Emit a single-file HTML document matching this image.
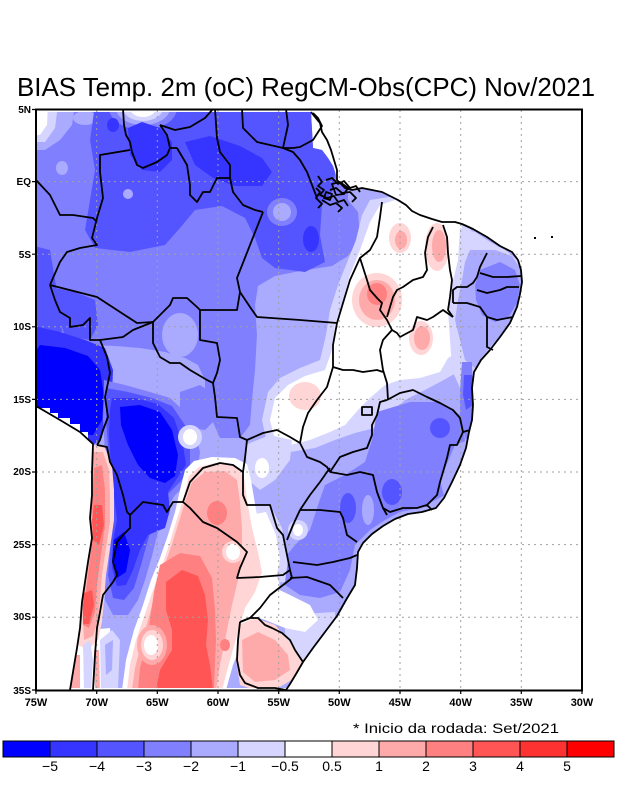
<!DOCTYPE html>
<html><head><meta charset="utf-8"><style>body{margin:0;background:#fff}svg{display:block}</style></head>
<body>
<svg width="618" height="800" viewBox="0 0 618 800" xmlns="http://www.w3.org/2000/svg">
<rect width="618" height="800" fill="#fff"/>
<text x="17" y="96" font-family="Liberation Sans, sans-serif" font-size="26" textLength="578" lengthAdjust="spacingAndGlyphs">BIAS Temp. 2m (oC) RegCM-Obs(CPC) Nov/2021</text>
<defs>
<clipPath id="land"><polygon points="36,112 311,112 313,148 322,150 328,158 333,166 336,175 338,183 345,188 352,190 362,188 372,190 382,192 390,196 398,200 406,205 412,211 420,215 432,219 442,222 455,222 462,224 473,229 487,237 500,246 512,252 518,260 521,270 522,282 520,294 517,307 510,323 500,337 490,350 481,360 474,372 472,388 473,405 472,420 469,432 466,448 460,465 452,482 444,498 436,508 422,512 408,514 395,519 383,526 372,534 363,543 358,552 357,568 355,585 346,600 337,616 325,632 313,648 303,662 296,674 290,684 286,688 70,688 73,672 77,648 80,628 82,602 85,582 88,562 92,538 90,518 92,495 92,472 93,444 88,440 88,432 80,432 80,424 70,424 70,418 58,418 58,413 50,413 50,408 36,408"/></clipPath>
</defs>
<g clip-path="url(#land)">
<rect x="0" y="0" width="618" height="800" fill="#aaaaff"/>
<polygon fill="#8080ff" points="30,100 348,100 348,200 358,212 360,238 348,256 332,266 300,271 275,276 258,286 255,305 257,335 255,370 252,400 250,425 240,438 220,438 212,420 205,400 205,380 198,365 185,358 165,352 140,348 115,346 90,345 60,338 30,335"/>
<ellipse cx="180" cy="335" rx="18" ry="22" fill="#aaaaff"/>
<ellipse cx="62" cy="168" rx="6" ry="7" fill="#aaaaff"/>
<ellipse cx="85" cy="118" rx="12" ry="7" fill="#aaaaff"/>
<polygon fill="#aaaaff" points="30,105 75,105 72,125 60,140 45,150 30,150"/>
<polygon fill="#d5d5ff" points="30,105 58,105 55,128 45,142 30,142"/>
<polygon fill="#ffffff" points="30,105 48,105 47,125 40,135 30,135"/>
<polygon fill="#5555ff" points="95,105 313,105 322,128 336,165 333,190 322,205 320,235 325,262 305,272 275,268 262,258 255,238 245,218 222,206 195,210 180,228 165,245 130,252 95,248 85,230 90,200 95,170 90,140"/>
<polygon fill="#5555ff" points="30,245 50,250 55,280 60,310 62,332 30,332"/>
<polygon fill="#5555ff" points="55,288 75,292 95,300 98,325 90,340 65,336 58,315"/>
<ellipse cx="128" cy="194" rx="5" ry="5" fill="#aaaaff"/>
<ellipse cx="143" cy="108" rx="34" ry="22" fill="#8080ff"/>
<ellipse cx="143" cy="108" rx="27" ry="17" fill="#aaaaff"/>
<ellipse cx="143" cy="108" rx="20" ry="13" fill="#d5d5ff"/>
<ellipse cx="143" cy="108" rx="13" ry="9" fill="#ffffff"/>
<ellipse cx="282" cy="212" rx="15" ry="14" fill="#8080ff"/>
<ellipse cx="282" cy="212" rx="9" ry="9" fill="#aaaaff"/>
<polygon fill="#3535ff" points="128,128 142,122 160,128 172,142 172,160 160,172 142,170 130,155"/>
<polygon fill="#3535ff" points="185,142 210,136 240,146 262,158 272,172 262,186 235,186 213,178 195,165"/>
<ellipse cx="311" cy="239" rx="8" ry="13" fill="#3535ff"/>
<ellipse cx="113" cy="125" rx="6" ry="7" fill="#3535ff"/>
<polygon fill="#8080ff" points="180,392 200,385 215,395 215,420 205,430 190,428 180,410"/>
<polygon fill="#3535ff" points="30,325 60,332 85,340 105,348 113,370 112,395 108,420 100,440 93,445 30,445"/>
<polygon fill="#0000ff" points="40,345 65,348 88,356 100,370 104,395 102,420 93,435 30,432 30,360"/>
<polygon fill="#8080ff" points="104,380 125,385 150,392 170,398 185,412 195,432 200,452 198,468 190,482 175,495 165,512 158,532 152,556 145,580 138,600 128,615 113,615 105,600 104,565 108,520 106,470 103,420"/>
<polygon fill="#5555ff" points="106,388 128,392 152,398 172,406 185,425 190,450 190,468 180,482 166,496 156,515 148,540 141,565 134,588 124,600 113,598 108,575 111,540 112,500 109,460 106,420"/>
<polygon fill="#3535ff" points="112,398 135,398 158,404 174,418 183,445 186,465 176,480 168,492 170,510 165,528 148,535 140,550 133,570 126,585 117,586 112,568 113,540 117,520 114,495 111,465 109,435 110,410"/>
<polygon fill="#0000ff" points="120,407 140,405 160,412 172,430 178,455 175,476 165,483 150,478 138,465 128,445 121,425"/>
<polygon fill="#0000ff" points="114,540 124,532 130,550 126,572 117,578 112,560"/>
<ellipse cx="190" cy="437" rx="12" ry="12" fill="#d5d5ff"/>
<ellipse cx="190" cy="437" rx="7" ry="8" fill="#ffffff"/>
<polygon fill="#ffffff" points="68,632 110,628 112,690 66,690"/>
<polygon fill="#ffd5d5" points="92,445 104,446 112,465 114,490 114,520 110,548 106,575 104,600 102,622 98,640 88,650 78,645 82,602 85,582 88,562 92,538 90,518 92,495 92,472"/>
<polygon fill="#ffaaaa" points="93,452 103,452 109,470 110,495 110,522 106,548 102,575 100,600 98,620 93,636 84,640 82,602 86,582 89,562 93,538 91,518 93,495 93,472"/>
<polygon fill="#ff8080" points="94,468 102,465 105,490 105,525 101,555 97,585 95,612 89,628 83,625 86,590 90,560 93,530 92,500"/>
<polygon fill="#ff5555" points="94,505 102,505 104,525 99,545 93,540 92,520"/>
<polygon fill="#ff5555" points="84,593 92,590 94,605 89,624 83,624 83,605"/>
<polygon fill="#ffaaaa" points="72,655 80,655 80,690 70,690"/>
<polygon fill="#d5d5ff" points="83,645 90,640 93,660 91,690 84,690"/>
<polygon fill="#ffaaaa" points="94,650 99,650 100,690 95,690"/>
<polygon fill="#d5d5ff" points="100,640 112,630 120,640 118,690 101,690"/>
<polygon fill="#aaaaff" points="105,645 113,640 112,670 106,675"/>
<polygon fill="#d5d5ff" points="370,200 395,196 420,210 450,218 465,222 478,240 470,262 462,285 465,310 477,335 477,360 458,372 440,382 425,390 405,400 392,412 375,428 355,433 335,440 315,448 290,452 268,448 262,420 268,392 280,378 300,368 320,360 326,335 330,310 338,285 346,265 356,240 362,215"/>
<polygon fill="#ffffff" points="380,205 395,200 420,214 450,222 460,224 468,240 460,262 453,285 456,310 467,335 462,350 448,358 440,372 420,378 400,380 385,385 370,398 358,410 345,425 330,432 310,440 290,445 275,440 270,420 275,398 288,385 305,376 325,370 332,350 335,325 343,300 350,275 360,250 370,222"/>
<ellipse cx="400" cy="238" rx="11" ry="15" fill="#ffd5d5"/>
<ellipse cx="401" cy="240" rx="6" ry="9" fill="#ffaaaa"/>
<ellipse cx="437" cy="247" rx="12" ry="24" fill="#ffd5d5"/>
<ellipse cx="439" cy="246" rx="7" ry="16" fill="#ffaaaa"/>
<ellipse cx="377" cy="300" rx="25" ry="27" fill="#ffd5d5"/>
<ellipse cx="377" cy="300" rx="18" ry="20" fill="#ffaaaa"/>
<ellipse cx="377" cy="294" rx="10" ry="11" fill="#ff8080"/>
<ellipse cx="421" cy="338" rx="12" ry="17" fill="#ffd5d5"/>
<ellipse cx="422" cy="338" rx="8" ry="12" fill="#ffaaaa"/>
<ellipse cx="305" cy="396" rx="16" ry="14" fill="#ffd5d5"/>
<polygon fill="#d5d5ff" points="460,228 475,232 490,242 505,250 520,262 525,300 518,330 500,350 485,368 475,385 460,388 452,370 450,340 448,310 452,285 458,260"/>
<polygon fill="#aaaaff" points="470,250 495,250 512,256 520,268 523,285 520,300 515,318 505,332 492,345 482,357 475,368 465,360 460,340 455,320 458,300 462,280 465,262"/>
<polygon fill="#8080ff" points="480,270 500,262 515,270 520,285 517,303 508,318 495,322 482,315 476,300 475,285"/>
<polygon fill="#8080ff" points="462,362 472,362 474,420 466,440 460,420 460,390"/>
<polygon fill="#5555ff" points="464,375 472,375 473,405 466,410 463,395"/>
<polygon fill="#8080ff" points="377,412 410,402 440,402 460,415 465,440 458,470 445,495 420,508 400,512 385,520 370,530 355,545 350,570 340,592 320,598 300,595 285,585 283,560 295,545 310,530 318,505 325,485 345,475 365,462 372,440"/>
<ellipse cx="440" cy="428" rx="10" ry="10" fill="#5555ff"/>
<ellipse cx="392" cy="492" rx="10" ry="13" fill="#5555ff"/>
<ellipse cx="348" cy="508" rx="8" ry="15" fill="#5555ff"/>
<ellipse cx="368" cy="510" rx="6" ry="15" fill="#aaaaff"/>
<polygon fill="#aaaaff" points="455,445 468,440 465,470 455,492 445,500 440,480"/>
<polygon fill="#d5d5ff" points="245,445 270,435 292,440 290,460 275,480 260,490 248,480"/>
<ellipse cx="262" cy="468" rx="7" ry="10" fill="#ffffff"/>
<polygon fill="#d5d5ff" points="246,505 270,505 282,528 288,560 285,582 262,584 252,560 246,530"/>
<polygon fill="#ffffff" points="250,515 266,512 276,535 280,560 276,578 265,578 256,560 251,535"/>
<ellipse cx="298" cy="530" rx="10" ry="10" fill="#d5d5ff"/>
<ellipse cx="298" cy="530" rx="5" ry="6" fill="#ffffff"/>
<polygon fill="#d5d5ff" points="285,615 335,612 335,650 300,665 285,650"/>
<polygon fill="#ffffff" points="245,585 265,583 290,595 310,605 318,620 305,632 285,628 265,620 250,615"/>
<polygon fill="#ffffff" points="185,470 194,461 212,457 235,458 247,464 251,480 256,510 262,540 272,565 280,585 270,600 256,618 243,640 233,665 226,690 122,690 126,660 134,630 143,605 151,580 160,558 168,535 175,512 180,490"/>
<polygon fill="#ffd5d5" points="189,476 199,467 215,463 236,466 244,478 247,500 252,528 258,552 262,572 255,592 245,608 238,632 230,660 222,690 127,690 130,665 136,640 145,614 153,590 162,566 169,545 176,522 183,500"/>
<polygon fill="#ffaaaa" points="192,482 205,472 225,471 237,480 240,502 242,528 242,552 238,580 232,605 226,635 220,665 216,690 132,690 135,668 141,645 148,620 155,595 162,572 170,550 177,528 184,505"/>
<polygon fill="#ff8080" points="160,565 180,553 200,556 212,578 215,610 216,640 214,690 138,690 140,668 146,645 150,620 154,592"/>
<polygon fill="#ff5555" points="166,582 182,570 198,576 205,595 208,620 206,645 210,665 213,690 156,690 160,670 172,650 172,630 166,610"/>
<ellipse cx="152" cy="645" rx="15" ry="20" fill="#ffaaaa"/>
<ellipse cx="152" cy="645" rx="11" ry="15" fill="#ffd5d5"/>
<ellipse cx="151" cy="645" rx="7" ry="10" fill="#ffffff"/>
<ellipse cx="217" cy="513" rx="10" ry="12" fill="#ff8080"/>
<ellipse cx="233" cy="552" rx="11" ry="11" fill="#ffd5d5"/>
<ellipse cx="233" cy="552" rx="7" ry="8" fill="#ffffff"/>
<ellipse cx="225" cy="645" rx="5" ry="6" fill="#ff8080"/>
<polygon fill="#ffd5d5" points="238,625 255,618 275,625 292,645 302,662 295,678 278,688 255,690 240,685 236,660"/>
<polygon fill="#ffaaaa" points="242,640 258,632 275,640 288,655 290,670 275,680 255,682 243,672"/>
</g>
<g stroke="#a0a0a0" stroke-width="1" stroke-dasharray="2 4" fill="none">
<path d="M96.7 110V690M157.3 110V690M218 110V690M278.7 110V690M339.3 110V690M400 110V690M460.7 110V690M521.3 110V690"/>
<path d="M36 181.6H582M36 254.2H582M36 326.8H582M36 399.4H582M36 472H582M36 544.6H582M36 617.2H582"/>
</g>
<g stroke="#000" stroke-width="1.8" fill="none" stroke-linejoin="round">
<polyline points="311,112 315,117 320,123 322,132 327,140 331,150 334,160 337,170 337,180 345,188 352,190 362,188 372,190 382,192 390,196 398,200 406,205 412,211 420,215 432,219 442,222 455,222 462,224 473,229 487,237 500,246 512,252 518,260 521,270 522,282 520,294 517,307 510,323 500,337 490,350 481,360 474,372 472,388 473,405 472,420 469,432 466,448 460,465 452,482 444,498 436,508 422,512 408,514 395,519 383,526 372,534 363,543 358,552 357,568 355,585 346,600 337,616 325,632 313,648 303,662 296,674 290,684 286,690"/>
<polyline points="70,690 73,672 77,648 80,628 82,602 85,582 88,562 92,538 90,518 92,495 92,472 93,444 80,432 60,420 36,406"/>
<polyline points="318,176 322,182 318,186 324,190 320,195 327,198 334,196 338,202 344,200 348,206"/>
<polyline points="326,180 332,178 338,184 344,181 350,188 356,186 360,192"/>
<polyline points="330,190 336,188 342,193 350,192 356,198 352,202"/>
<polyline points="322,200 330,205 336,203 342,208 338,212"/>
<polyline points="316,188 320,192 316,198 322,204 318,208"/>
<polygon points="332,184 340,182 348,188 344,194 336,195"/>
<polygon points="326,192 332,194 330,200 324,198"/>
<polyline points="123,109 124,125 126,135 130,142 132,152 137,165 143,168 157,162 167,155 170,148 177,148"/>
<polyline points="160,125 167,135 170,148"/>
<polyline points="160,125 175,130 190,127 205,118 213,109"/>
<polyline points="215,109 217,138 220,152 230,165 230,178"/>
<polyline points="242,109 243,128 257,142 270,145 283,148 293,148"/>
<polyline points="286,109 288,125 283,148"/>
<polyline points="313,113 318,118 322,126 313,140 300,147 293,148"/>
<polyline points="283,148 293,152 300,160 307,172 312,185 317,198"/>
<polyline points="177,148 187,165 190,185 190,195 197,202 203,192 210,192 217,178 230,178"/>
<polyline points="230,178 233,192 243,205 255,210 263,212"/>
<polyline points="263,212 250,245 237,278 240,292"/>
<polyline points="240,292 237,310 200,310 197,307 187,298 173,298 170,305 153,322"/>
<polyline points="130,150 100,155 100,172 103,198 97,218 92,238 97,245 80,248 67,252 60,262 53,278 50,285"/>
<polyline points="36,180 50,195 60,215 73,215 93,218 97,222"/>
<polyline points="50,285 55,300 60,312 70,318 70,327 83,325 90,318 90,340 100,340 123,337 133,330 153,322"/>
<polyline points="50,285 97,297 137,323 153,322"/>
<polyline points="153,322 153,343 160,357 170,363 180,363 190,370 207,380 213,383 215,397 217,417 237,418 240,437 247,440 245,458 243,472"/>
<polyline points="200,310 200,340 217,343 220,360 217,373 213,383"/>
<polyline points="100,340 107,357 110,373 105,397 108,417 103,430 100,440 97,445"/>
<polyline points="97,445 107,447 110,462 117,475 123,495 127,512 130,515 130,528 123,535 117,542 113,562 117,575 113,582 103,595 100,612 97,628 95,655 93,690"/>
<polyline points="130,515 143,502 163,505 167,512 173,502 183,502"/>
<polyline points="183,502 190,482 203,468 220,463 233,465 243,472"/>
<polyline points="243,472 243,495 247,505 260,505 270,505 277,528 283,535 287,555 290,570"/>
<polyline points="290,570 283,575 260,577 237,578 240,568 247,552 237,542 217,528 203,522 190,508 183,502"/>
<polyline points="290,570 292,578 287,582 270,595 260,608 250,618 240,622"/>
<polyline points="240,622 250,618 258,618 265,625 272,628 282,633 290,640 295,650 303,662"/>
<polyline points="240,622 238,640 237,660 240,675 245,683 258,688 275,688 286,690"/>
<polyline points="343,598 330,585 307,577 290,578"/>
<polyline points="293,562 317,565 333,562 350,558 357,555"/>
<polyline points="300,510 320,510 340,512 343,518 347,535 357,542"/>
<polyline points="300,510 293,525 287,540"/>
<polyline points="300,510 310,495 320,482 327,472 330,468"/>
<polyline points="247,440 263,433 277,430 290,437 300,443"/>
<polyline points="300,443 307,457 320,462 327,467 330,472"/>
<polyline points="330,472 340,457 353,452 367,448 372,435 372,425 377,415 380,402 387,400"/>
<polyline points="330,472 347,475 360,472 373,475 377,492 383,508 387,515"/>
<polyline points="383,508 390,512 403,508 417,508 427,505 432,510"/>
<polyline points="427,505 437,495 440,482 443,472 447,458 450,445 457,445 463,432"/>
<polyline points="387,400 400,393 413,390 427,397 440,403 453,410 460,418 463,432 470,430"/>
<polyline points="392,330 383,340 380,350 383,370 387,383 388,400"/>
<polyline points="333,367 343,370 353,370 363,372 377,370 383,372"/>
<polyline points="337,323 333,345 333,367 327,387 317,400 308,413 303,427 300,443"/>
<polyline points="240,292 250,307 257,317 300,320 337,323"/>
<polyline points="382,202 380,217 377,237 370,250 360,258 350,280 343,303 337,323"/>
<polyline points="360,258 367,280 370,290 377,298 382,303 380,310 387,320 392,330"/>
<polyline points="433,227 428,237 425,253 427,270 423,277 413,280 403,287 397,290 393,297 390,307 387,317"/>
<polyline points="392,330 397,333 400,337 413,330 417,317 427,320 433,317 443,310 453,317"/>
<polyline points="443,225 447,237 448,253 450,270 452,280 450,297 448,310 453,317"/>
<polyline points="487,253 480,267 477,277 473,283 467,287 457,287 453,290 453,303"/>
<polyline points="477,290 487,293 500,290 507,287 519,287"/>
<polyline points="480,273 493,277 507,277 521,276"/>
<polyline points="453,303 467,303 480,307 487,317 497,320 513,317"/>
<polyline points="487,317 487,337 487,347 493,350"/>
<rect x="362" y="407" width="10" height="8"/>
</g>
<rect x="534" y="237" width="2" height="2" fill="#000"/>
<rect x="551" y="236" width="2" height="2" fill="#000"/>
<rect x="36" y="109.5" width="546" height="581" fill="none" stroke="#000" stroke-width="2"/>
<g stroke="#000" stroke-width="1.2">
<path d="M36 690v4M96.7 690v4M157.3 690v4M218 690v4M278.7 690v4M339.3 690v4M400 690v4M460.7 690v4M521.3 690v4M582 690v4"/>
<path d="M32 109.5h4M32 181.6h4M32 254.2h4M32 326.8h4M32 399.4h4M32 472h4M32 544.6h4M32 617.2h4M32 690h4"/>
</g>
<g font-family="Liberation Sans, sans-serif" font-size="10" font-weight="bold" text-anchor="end">
<text x="31" y="113">5N</text><text x="31" y="185">EQ</text><text x="31" y="258">5S</text><text x="31" y="330">10S</text><text x="31" y="403">15S</text><text x="31" y="475">20S</text><text x="31" y="548">25S</text><text x="31" y="620">30S</text><text x="31" y="694">35S</text>
</g>
<g font-family="Liberation Sans, sans-serif" font-size="11" font-weight="bold" text-anchor="middle">
<text x="36" y="706">75W</text><text x="96.7" y="706">70W</text><text x="157.3" y="706">65W</text><text x="218" y="706">60W</text><text x="278.7" y="706">55W</text><text x="339.3" y="706">50W</text><text x="400" y="706">45W</text><text x="460.7" y="706">40W</text><text x="521.3" y="706">35W</text><text x="582" y="706">30W</text>
</g>
<text x="353" y="733" font-family="Liberation Sans, sans-serif" font-size="14" textLength="206" lengthAdjust="spacingAndGlyphs">* Inicio da rodada: Set/2021</text>
<g stroke="#000" stroke-width="1">
<rect x="3" y="741" width="47" height="16" fill="#0000ff"/>
<rect x="50" y="741" width="47" height="16" fill="#3535ff"/>
<rect x="97" y="741" width="47" height="16" fill="#5555ff"/>
<rect x="144" y="741" width="47" height="16" fill="#8080ff"/>
<rect x="191" y="741" width="47" height="16" fill="#aaaaff"/>
<rect x="238" y="741" width="47" height="16" fill="#d5d5ff"/>
<rect x="285" y="741" width="47" height="16" fill="#ffffff"/>
<rect x="332" y="741" width="47" height="16" fill="#ffd5d5"/>
<rect x="379" y="741" width="47" height="16" fill="#ffaaaa"/>
<rect x="426" y="741" width="47" height="16" fill="#ff8080"/>
<rect x="473" y="741" width="47" height="16" fill="#ff5555"/>
<rect x="520" y="741" width="47" height="16" fill="#ff3232"/>
<rect x="567" y="741" width="47" height="16" fill="#ff0000"/>
</g>
<g font-family="Liberation Sans, sans-serif" font-size="14" text-anchor="middle">
<text x="50" y="771">−5</text><text x="97" y="771">−4</text><text x="144" y="771">−3</text><text x="191" y="771">−2</text><text x="238" y="771">−1</text><text x="285" y="771">−0.5</text><text x="332" y="771">0.5</text><text x="379" y="771">1</text><text x="426" y="771">2</text><text x="473" y="771">3</text><text x="520" y="771">4</text><text x="567" y="771">5</text>
</g>
</svg>
</body></html>
